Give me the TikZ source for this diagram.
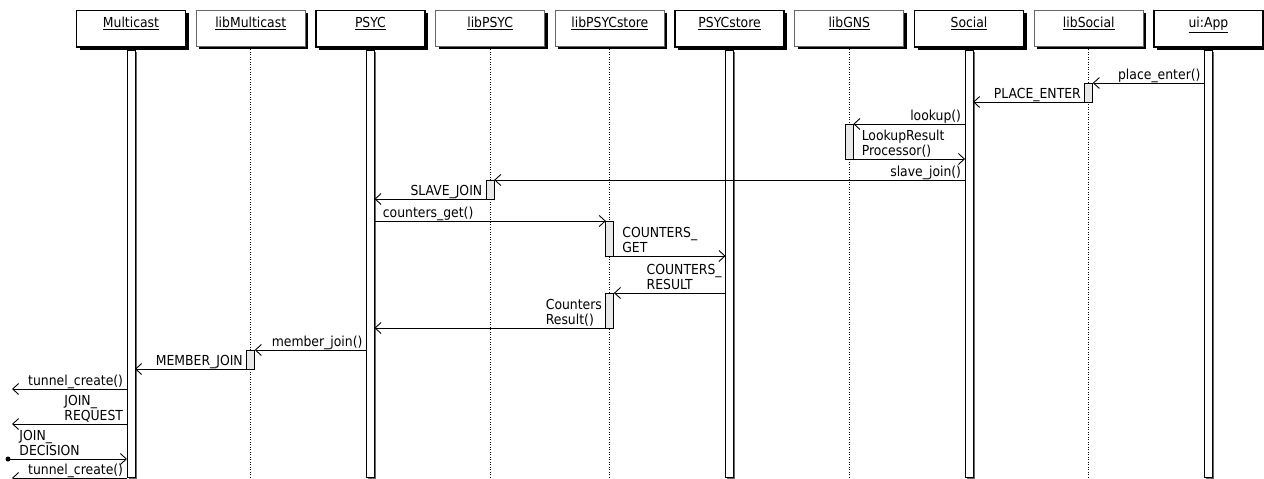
\documentclass[tikz,border=0pt]{standalone}
\usepackage{fontspec}
\setmainfont{DejaVu Sans Condensed}
\usetikzlibrary{arrows.meta,shadows}

\begin{document}
\begin{tikzpicture}[x=1pt, y=-1pt, every node/.style={font=\fontsize{13.8}{15.3}\selectfont},
        head/.style={rectangle, fill=white, anchor=north, minimum width=109pt,
            text height=13pt, text depth=14.5pt, inner ysep=4.5pt,
            drop shadow={shadow xshift=3pt, shadow yshift=-3pt, fill=black, opacity=1}},
        svc/.style={head, draw=black, line width=1.8pt},
        lib/.style={head, draw=black!60, line width=0.9pt},
        bar/.style={rectangle, draw, fill=white, line width=1pt, outer sep=0pt,
            minimum width=8pt, minimum height=427pt, inner sep=0pt,
            drop shadow={shadow xshift=1.5pt, shadow yshift=-1.5pt, fill=black!60, opacity=1}},
        act/.style={rectangle, draw, fill=black!9, line width=1pt, outer sep=0pt,
            minimum width=8pt, inner sep=0pt},
        lifeline/.style={line width=0.9pt, dash pattern=on 1pt off 1.5pt},
        msg/.style={line width=0.9pt, -{Straight Barb[length=6pt, width=11pt]}},
        rlabel/.style={anchor=south east, inner sep=1pt, text depth=2pt, xshift=-2.5pt, align=left},
        llabel/.style={anchor=south west, inner sep=1pt, text depth=2pt, xshift=7pt, align=left}]
    \useasboundingbox (0,0) rectangle (1264,479);

    \foreach \name/\title/\kind [count=\index from 0] in {mc/Multicast/svc, libmc/libMulticast/lib,
            psyc/PSYC/svc, libpsyc/libPSYC/lib, libstore/libPSYCstore/lib, store/PSYCstore/svc,
            libgns/libGNS/lib, social/Social/svc, libsocial/libSocial/lib, app/ui:App/svc}
        \node[\kind] (\name) at ({131+119.72*\index}, 9.5) {\underline{\title}};
    \foreach \name in {libmc, libpsyc, libstore, libgns, libsocial}
        \draw[lifeline] (\name.south) -- (\name.south |- 0,479);
    \foreach \name in {mc, psyc, store, social, app}
        \node[bar] (\name-bar) at (\name.south |- 0,263.5) {};

    \node[act, minimum height=19pt] (libsocial-act) at (libsocial.south |- 0,92.5) {};
    \node[act, minimum height=35pt] (libgns-act) at (libgns.south |- 0,141.5) {};
    \node[act, minimum height=19pt] (libpsyc-act) at (libpsyc.south |- 0,189.5) {};
    \node[act, minimum height=35pt] (libstore-act1) at (libstore.south |- 0,238.5) {};
    \node[act, minimum height=35pt] (libstore-act2) at (libstore.south |- 0,310.5) {};
    \node[act, minimum height=19pt] (libmc-act) at (libmc.south |- 0,359.5) {};

    \coordinate (out-1) at (12,389);
    \coordinate (out-2) at (12,424);
    \coordinate (in-1) at (8,459);
    \coordinate (out-3) at (12,478);

    \draw[msg] (app-bar.west |- 0,83) node[rlabel] {place\_enter()} -- (libsocial-act.north east);
    \draw[msg] (libsocial-act.south west) node[rlabel] {PLACE\_ENTER} -- (social-bar.east |- 0,102);
    \draw[msg] (social-bar.west |- 0,124) node[rlabel] {lookup()} -- (libgns-act.north east);
    \draw[msg] (libgns-act.south east) node[llabel] {LookupResult\\Processor()} -- (social-bar.west |- 0,159);
    \draw[msg] (social-bar.west |- 0,180) node[rlabel] {slave\_join()} -- (libpsyc-act.north east);
    \draw[msg] (libpsyc-act.south west) node[rlabel] {SLAVE\_JOIN} -- (psyc-bar.east |- 0,199);
    \draw[msg] (psyc-bar.east |- 0,221) node[llabel] {counters\_get()} -- (libstore-act1.north west);
    \draw[msg] (libstore-act1.south east) node[llabel] {COUNTERS\_\\GET} -- (store-bar.west |- 0,256);
    \draw[msg] (store-bar.west |- 0,293) node[rlabel] {COUNTERS\_\\RESULT} -- (libstore-act2.north east);
    \draw[msg] (libstore-act2.south west) node[rlabel] {Counters\\Result()} -- (psyc-bar.east |- 0,328);
    \draw[msg] (psyc-bar.west |- 0,350) node[rlabel] {member\_join()} -- (libmc-act.north east);
    \draw[msg] (libmc-act.south west) node[rlabel] {MEMBER\_JOIN} -- (mc-bar.east |- 0,369);
    \draw[msg] (mc-bar.west |- 0,389) node[rlabel] {tunnel\_create()} -- (out-1);
    \draw[msg] (mc-bar.west |- 0,424) node[rlabel] {JOIN\_\\REQUEST} -- (out-2);
    \fill (in-1) circle (2.5pt);
    \draw[msg] (in-1) node[llabel, xshift=3pt] {JOIN\_\\DECISION} -- (mc-bar.west |- 0,459);
    \draw[msg] (mc-bar.west |- 0,478) node[rlabel] {tunnel\_create()} -- (out-3);
\end{tikzpicture}
\end{document}
